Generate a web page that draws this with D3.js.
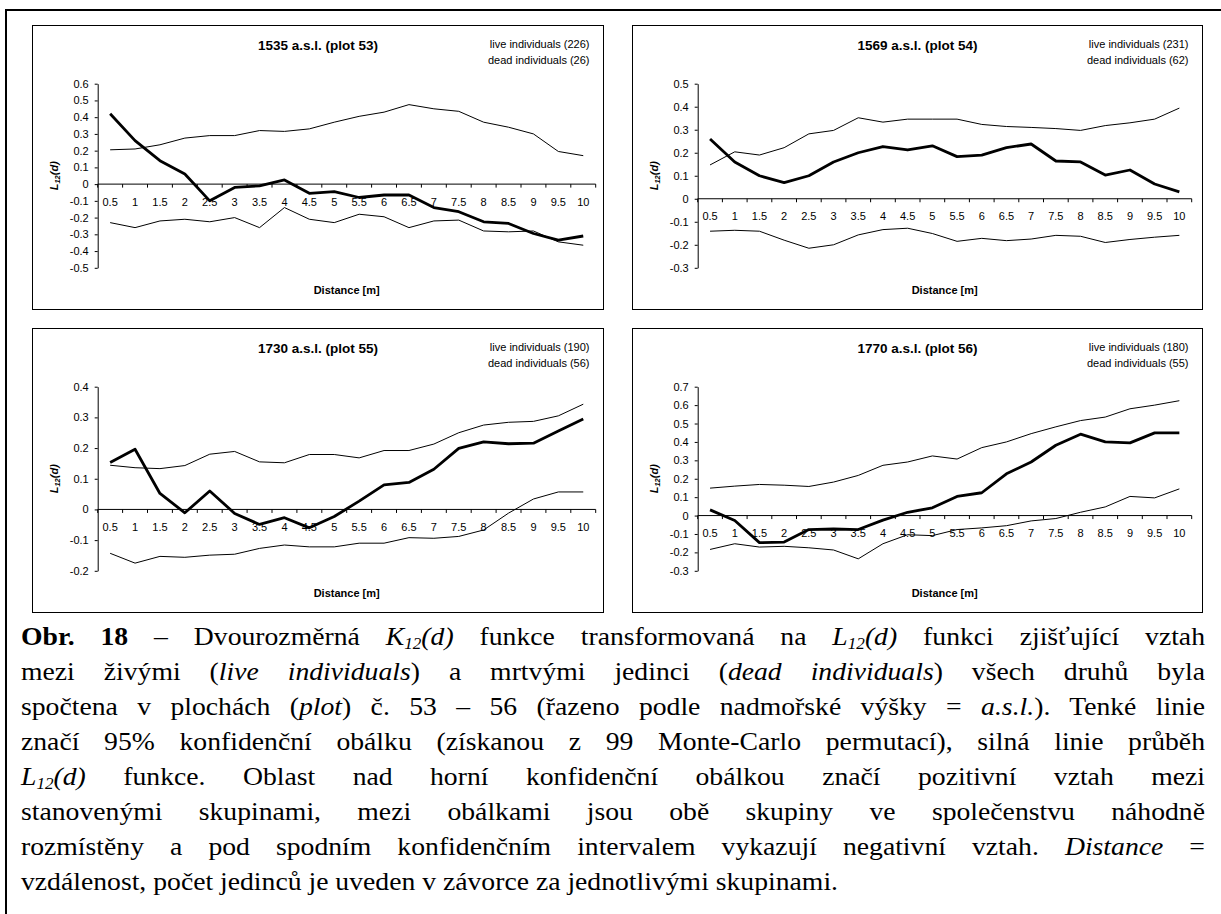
<!DOCTYPE html>
<html lang="cs">
<head>
<meta charset="utf-8">
<script src="https://d3js.org/d3.v7.min.js"></script>
<style>
  body { margin: 0; background: #fff; }
  #page { position: relative; width: 1221px; height: 914px; overflow: hidden; background: #fff; }
  svg { position: absolute; left: 0; top: 0; }
  svg text { font-family: Arial, "Liberation Sans", sans-serif; fill: #000; }
  #caption { position: absolute; left: 21px; top: 619px; width: 1184px; transform-origin: 0 0;
    font-family: "Times New Roman", "Liberation Serif", Tinos, Times, "Nimbus Roman", "Nimbus Roman No9 L", FreeSerif, "DejaVu Serif", "Noto Serif", serif;
    font-size: 25.5px; line-height: 35px; color: #000; }
  #caption div { text-align: justify; text-align-last: justify; height: 35px; white-space: nowrap; }
  #caption div.last { text-align-last: left; }
  #caption sub { font-size: 0.62em; vertical-align: -0.25em; line-height: 0; }
</style>
</head>
<body>
<div id="page">
  <div id="chart"></div>
  <div id="caption">
    <div><b>Obr. 18</b> – Dvourozměrná <i>K<sub>12</sub>(d)</i> funkce transformovaná na <i>L<sub>12</sub>(d)</i> funkci zjišťující vztah</div>
    <div>mezi živými (<i>live individuals</i>) a mrtvými jedinci (<i>dead individuals</i>) všech druhů byla</div>
    <div>spočtena v plochách (<i>plot</i>) č. 53 – 56 (řazeno podle nadmořské výšky = <i>a.s.l.</i>). Tenké linie</div>
    <div>značí 95% konfidenční obálku (získanou z 99 Monte-Carlo permutací), silná linie průběh</div>
    <div><i>L<sub>12</sub>(d)</i> funkce. Oblast nad horní konfidenční obálkou značí pozitivní vztah mezi</div>
    <div>stanovenými skupinami, mezi obálkami jsou obě skupiny ve společenstvu náhodně</div>
    <div>rozmístěny a pod spodním konfidenčním intervalem vykazují negativní vztah. <i>Distance</i> =</div>
    <div class="last"><span id="lastline">vzdálenost, počet jedinců je uveden v závorce za jednotlivými skupinami.</span></div>
  </div>
</div>
<script>
// distance classes [m]
var distances = [0.5,1,1.5,2,2.5,3,3.5,4,4.5,5,5.5,6,6.5,7,7.5,8,8.5,9,9.5,10];

var plotTitles = ["1535 a.s.l. (plot 53)", "1569 a.s.l. (plot 54)", "1730 a.s.l. (plot 55)", "1770 a.s.l. (plot 56)"];
var liveCounts = [226, 231, 190, 180];
var deadCounts = [26, 62, 56, 55];
var yMin = [-0.5, -0.3, -0.2, -0.3];
var yMax = [0.6, 0.5, 0.4, 0.7];

// plot 53
var l12_53   = [0.42,0.26,0.14,0.06,-0.10,-0.02,-0.01,0.025,-0.055,-0.045,-0.08,-0.065,-0.065,-0.14,-0.165,-0.225,-0.235,-0.295,-0.335,-0.31];
var upper_53 = [0.205,0.21,0.235,0.275,0.29,0.29,0.32,0.315,0.33,0.37,0.405,0.43,0.475,0.45,0.435,0.37,0.34,0.30,0.195,0.17];
var lower_53 = [-0.23,-0.26,-0.22,-0.21,-0.225,-0.20,-0.26,-0.14,-0.21,-0.23,-0.18,-0.195,-0.26,-0.22,-0.215,-0.28,-0.285,-0.28,-0.345,-0.365];
// plot 54
var l12_54   = [0.26,0.16,0.10,0.07,0.10,0.16,0.20,0.227,0.212,0.23,0.183,0.19,0.222,0.238,0.164,0.16,0.103,0.125,0.064,0.03];
var upper_54 = [0.147,0.204,0.19,0.222,0.282,0.297,0.352,0.333,0.346,0.346,0.346,0.323,0.314,0.31,0.305,0.297,0.318,0.33,0.346,0.394];
var lower_54 = [-0.141,-0.137,-0.141,-0.18,-0.215,-0.20,-0.157,-0.134,-0.128,-0.151,-0.185,-0.172,-0.182,-0.175,-0.159,-0.163,-0.19,-0.177,-0.167,-0.159];
// plot 55
var l12_55   = [0.153,0.196,0.052,-0.011,0.06,-0.013,-0.049,-0.027,-0.06,-0.023,0.027,0.08,0.088,0.131,0.199,0.22,0.214,0.216,0.256,0.295];
var upper_55 = [0.144,0.136,0.133,0.143,0.18,0.189,0.155,0.152,0.179,0.179,0.168,0.192,0.192,0.213,0.25,0.275,0.284,0.287,0.305,0.343];
var lower_55 = [-0.143,-0.175,-0.153,-0.156,-0.149,-0.146,-0.127,-0.116,-0.122,-0.122,-0.11,-0.11,-0.092,-0.094,-0.088,-0.067,-0.012,0.034,0.057,0.057];
// plot 56
var l12_56   = [0.031,-0.027,-0.147,-0.144,-0.076,-0.073,-0.076,-0.025,0.018,0.042,0.104,0.124,0.227,0.291,0.382,0.442,0.40,0.395,0.449,0.449];
var upper_56 = [0.149,0.16,0.169,0.165,0.158,0.182,0.218,0.273,0.291,0.324,0.307,0.369,0.40,0.445,0.482,0.516,0.535,0.58,0.60,0.624];
var lower_56 = [-0.184,-0.153,-0.171,-0.167,-0.175,-0.187,-0.235,-0.153,-0.104,-0.109,-0.076,-0.067,-0.055,-0.029,-0.016,0.018,0.047,0.104,0.096,0.145];

var l12Series = [l12_53, l12_54, l12_55, l12_56];
var upperSeries = [upper_53, upper_54, upper_55, upper_56];
var lowerSeries = [lower_53, lower_54, lower_55, lower_56];

var svg = d3.select('#chart').append('svg').attr('width', 1221).attr('height', 914);

// outer page frame
svg.append('line').attr('x1', 5).attr('x2', 1221).attr('y1', 10).attr('y2', 10)
  .attr('stroke', '#000').attr('stroke-width', 2.2);
svg.append('line').attr('x1', 6).attr('x2', 6).attr('y1', 9).attr('y2', 914)
  .attr('stroke', '#000').attr('stroke-width', 2);

var boxes = [
  {x: 32.5, y: 25.5, w: 571, h: 284, pw: 498},
  {x: 632.5, y: 25.5, w: 570, h: 284, pw: 494},
  {x: 32.5, y: 328.5, w: 571, h: 284, pw: 498},
  {x: 632.5, y: 328.5, w: 570, h: 284, pw: 494}
];

var fmt = function(v){ return String(+v.toFixed(1)); };

boxes.forEach(function(b, p){
  var g = svg.append('g');
  g.append('rect').attr('x', b.x).attr('y', b.y).attr('width', b.w).attr('height', b.h)
    .attr('fill', 'none').attr('stroke', '#000').attr('stroke-width', 1);

  var left = b.x + 65.2, right = left + b.pw;
  var top = b.y + 58.2, bottom = b.y + 242.3;

  var x = d3.scaleBand().domain(distances).range([left, right]).paddingInner(0).paddingOuter(0);
  var y = d3.scaleLinear().domain([yMin[p], yMax[p]]).range([bottom, top]);
  var cx = function(d){ return x(d) + x.bandwidth() / 2; };

  var n = Math.round((yMax[p] - yMin[p]) * 10);
  var yTicks = d3.range(n + 1).map(function(i){ return +(yMin[p] + i * 0.1).toFixed(1); });

  // y axis
  var ya = g.append('g').attr('transform', 'translate(' + left + ',0)')
    .call(d3.axisLeft(y).tickValues(yTicks).tickFormat(fmt).tickSize(3).tickSizeOuter(0).tickPadding(6));
  ya.selectAll('path, line').attr('stroke', '#000');
  ya.selectAll('text').style('font-size', '11px').style('font-family', 'Arial, "Liberation Sans", sans-serif');

  // x axis through zero
  var y0 = y(0);
  g.append('line').attr('x1', left).attr('x2', right).attr('y1', y0).attr('y2', y0)
    .attr('stroke', '#000').attr('stroke-width', 1);
  var edges = distances.map(function(d){ return x(d); }).concat([right]);
  g.selectAll('.xtick').data(edges).enter().append('line').attr('class', 'xtick')
    .attr('x1', function(d){ return d; }).attr('x2', function(d){ return d; })
    .attr('y1', y0).attr('y2', y0 + 3.5).attr('stroke', '#000');
  g.selectAll('.xlab').data(distances).enter().append('text').attr('class', 'xlab')
    .attr('x', cx).attr('y', y0 + 21.5).attr('text-anchor', 'middle')
    .style('font-size', '11px').text(function(d){ return d; });

  var line = d3.line().x(function(d, i){ return cx(distances[i]); }).y(function(d){ return y(d); });

  g.append('path').datum(upperSeries[p]).attr('d', line).attr('fill', 'none')
    .attr('stroke', '#000').attr('stroke-width', 1);
  g.append('path').datum(lowerSeries[p]).attr('d', line).attr('fill', 'none')
    .attr('stroke', '#000').attr('stroke-width', 1);
  g.append('path').datum(l12Series[p]).attr('d', line).attr('fill', 'none')
    .attr('stroke', '#000').attr('stroke-width', 2.8).attr('stroke-linejoin', 'round');

  // titles and labels
  g.append('text').attr('x', b.x + b.w / 2).attr('y', b.y + 24.5).attr('text-anchor', 'middle')
    .style('font-size', '13.5px').style('font-weight', 'bold').text(plotTitles[p]);
  g.append('text').attr('x', b.x + b.w - 14).attr('y', b.y + 22.5).attr('text-anchor', 'end')
    .style('font-size', '11px').text('live individuals (' + liveCounts[p] + ')');
  g.append('text').attr('x', b.x + b.w - 14).attr('y', b.y + 38.5).attr('text-anchor', 'end')
    .style('font-size', '11px').text('dead individuals (' + deadCounts[p] + ')');
  g.append('text').attr('x', (left + right) / 2).attr('y', b.y + 268.5).attr('text-anchor', 'middle')
    .style('font-size', '11px').style('font-weight', 'bold').text('Distance [m]');

  var yl = g.append('text').attr('transform', 'translate(' + (b.x + 25) + ',' + ((top + bottom) / 2) + ') rotate(-90)')
    .attr('text-anchor', 'middle').style('font-size', '11px').style('font-weight', 'bold').style('font-style', 'italic');
  yl.append('tspan').text('L');
  yl.append('tspan').attr('dy', 2.5).style('font-size', '7.5px').text('12');
  yl.append('tspan').attr('dy', -2.5).text('(d)');
});

// fit the caption to the width of the reference lines
var cap = document.getElementById('caption');
var natural = document.getElementById('lastline').getBoundingClientRect().width;
var sx = 817 / natural;
cap.style.width = (1184 / sx) + 'px';
cap.style.transform = 'scaleX(' + sx + ')';
</script>
</body>
</html>
